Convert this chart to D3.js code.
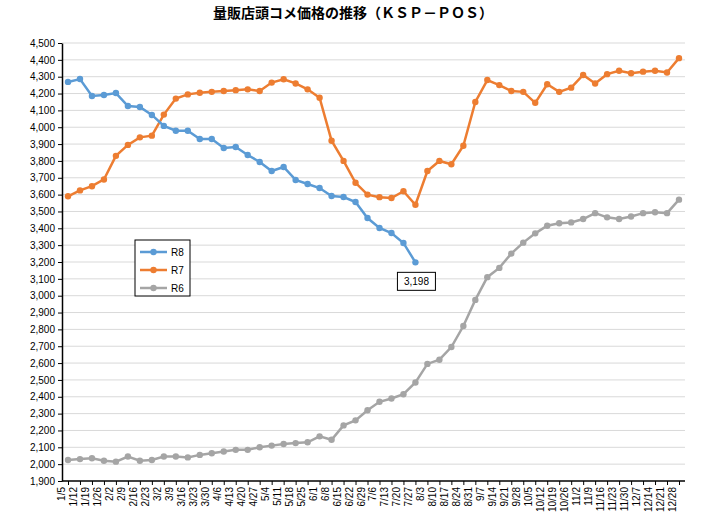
<!DOCTYPE html>
<html><head><meta charset="utf-8">
<script src="https://cdn.jsdelivr.net/npm/d3@7"></script>
<style>body{margin:0;background:#fff;font-family:"Liberation Sans",Arial,sans-serif}</style>
</head><body><svg id="c" width="706" height="524"></svg>
<script>
var weeks = ['1/5','1/12','1/19','1/26','2/2','2/9','2/16','2/23','3/2','3/9','3/16','3/23','3/30','4/6','4/13','4/20','4/27','5/4','5/11','5/18','5/25','6/1','6/8','6/15','6/22','6/29','7/6','7/13','7/20','7/27','8/3','8/10','8/17','8/24','8/31','9/7','9/14','9/21','9/28','10/5','10/12','10/19','10/26','11/2','11/9','11/16','11/23','11/30','12/7','12/14','12/21','12/28'];
var r8 = [4269,4286,4185,4191,4203,4126,4120,4073,4008,3979,3979,3930,3930,3877,3883,3835,3794,3740,3764,3687,3663,3639,3592,3586,3556,3461,3402,3372,3313,3198];
var r7 = [3590,3625,3650,3690,3830,3895,3940,3950,4075,4170,4195,4205,4210,4215,4220,4225,4215,4265,4285,4260,4225,4175,3920,3800,3670,3600,3585,3580,3620,3540,3740,3800,3780,3890,4150,4280,4250,4215,4210,4145,4255,4210,4235,4310,4260,4315,4335,4320,4330,4335,4325,4410];
var r6 = [2025,2030,2035,2020,2015,2045,2020,2025,2045,2045,2040,2055,2065,2075,2085,2085,2100,2110,2120,2125,2130,2165,2145,2230,2260,2320,2370,2390,2415,2485,2595,2620,2695,2820,2975,3110,3165,3250,3315,3370,3415,3430,3435,3455,3490,3465,3455,3470,3490,3495,3490,3570];
var yTicks = d3.range(1900, 4501, 100);

var svg = d3.select('#c');
var margin = {top: 43, left: 62, right: 21, bottom: 43};
var W = 706, H = 524;
var x = d3.scalePoint().domain(weeks).range([margin.left + 6, W - margin.right - 6]);
var y = d3.scaleLinear().domain([1900, 4500]).range([H - margin.bottom, margin.top]);

svg.append('text').attr('x', 353).attr('y', 18).attr('text-anchor', 'middle')
  .attr('font-family', '"Noto Sans CJK JP"').attr('font-weight', 'bold').attr('font-size', 14)
  .text('量販店頭コメ価格の推移（ＫＳＰ－ＰＯＳ）');

// grid
svg.append('g').selectAll('line').data(yTicks.slice(1)).join('line')
  .attr('x1', margin.left).attr('x2', W - margin.right)
  .attr('y1', d => y(d)).attr('y2', d => y(d))
  .attr('stroke', '#d9d9d9').attr('stroke-width', 1);

var yAxis = svg.append('g').attr('transform', 'translate(' + margin.left + ',0)')
  .call(d3.axisLeft(y).tickValues(yTicks).tickFormat(d3.format(',')).tickSize(4).tickSizeOuter(0));
yAxis.selectAll('text').attr('font-size', 10).attr('fill', '#000');
yAxis.select('.domain').attr('stroke', '#000').attr('stroke-width', 1.5);

var xAxis = svg.append('g').attr('transform', 'translate(0,' + (H - margin.bottom) + ')')
  .call(d3.axisBottom(x).tickSize(4).tickSizeOuter(0));
xAxis.select('.domain').attr('d', 'M' + margin.left + ',0H' + (W - margin.right)).attr('stroke', '#000').attr('stroke-width', 1.5);
xAxis.selectAll('text').attr('font-size', 10).attr('fill', '#000')
  .attr('transform', 'rotate(-90)').attr('text-anchor', 'end').attr('dx', '-6').attr('dy', '-0.35em').attr('y', 0).attr('x', 0);

var series = [
  {name: 'R8', data: r8, color: '#5B9BD5'},
  {name: 'R7', data: r7, color: '#ED7D31'},
  {name: 'R6', data: r6, color: '#A5A5A5'}
];
var line = d3.line().x((d, i) => x(weeks[i])).y(d => y(d));
series.slice().reverse().forEach(function(s) {
  var g = svg.append('g');
  g.append('path').datum(s.data).attr('d', line).attr('fill', 'none').attr('stroke', s.color).attr('stroke-width', 2.5);
  g.selectAll('circle').data(s.data).join('circle')
    .attr('cx', (d, i) => x(weeks[i])).attr('cy', d => y(d)).attr('r', 3.2).attr('fill', s.color);
});

// label for last R8 point
var li = r8.length - 1;
var lx = x(weeks[li]), ly = y(r8[li]);
var lab = svg.append('g').attr('transform', 'translate(' + (lx - 18) + ',' + (ly + 10) + ')');
lab.append('rect').attr('width', 38).attr('height', 18).attr('fill', '#fff').attr('stroke', '#000');
lab.append('text').attr('x', 19).attr('y', 13).attr('text-anchor', 'middle').attr('font-size', 10).text(d3.format(',')(r8[li]));

// legend
var leg = svg.append('g').attr('transform', 'translate(135,240)');
leg.append('rect').attr('width', 55).attr('height', 56).attr('fill', '#fff').attr('stroke', '#000');
series.forEach(function(s, i) {
  var yy = 12 + i * 18;
  leg.append('line').attr('x1', 5).attr('x2', 32).attr('y1', yy).attr('y2', yy).attr('stroke', s.color).attr('stroke-width', 2.5);
  leg.append('circle').attr('cx', 18.5).attr('cy', yy).attr('r', 3.2).attr('fill', s.color);
  leg.append('text').attr('x', 36).attr('y', yy + 4).attr('font-size', 10).text(s.name);
});
</script></body></html>
